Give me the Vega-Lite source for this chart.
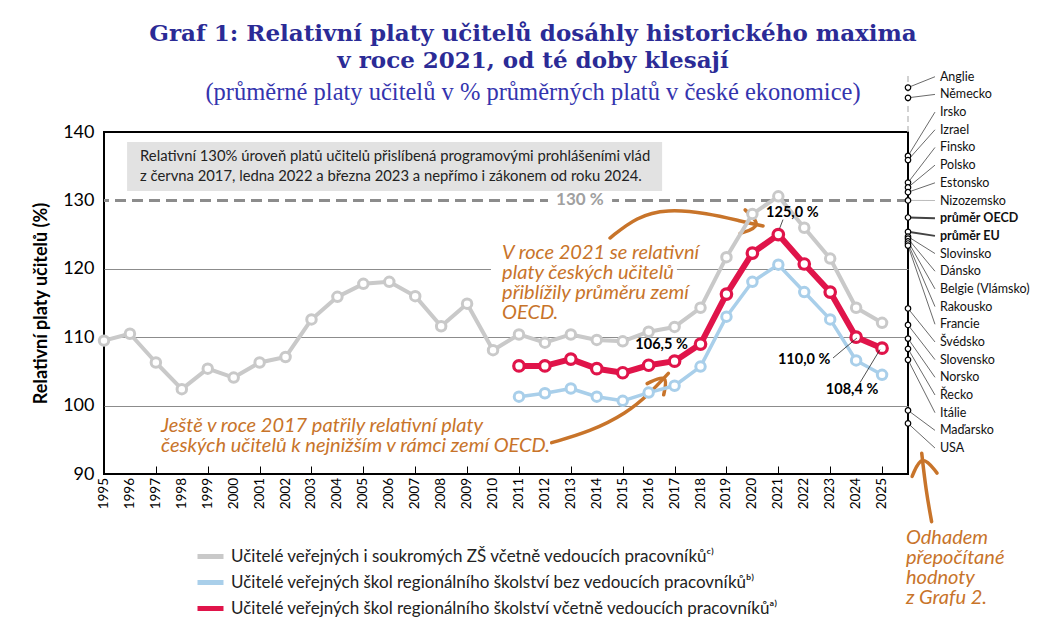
{
  "$schema": "https://vega.github.io/schema/vega-lite/v6.json",
  "width": 804,
  "height": 342,
  "autosize": {"type": "none"},
  "padding": {"left": 104, "top": 132, "right": 134, "bottom": 155},
  "background": "white",
  "title": {
    "text": ["Graf 1: Relativní platy učitelů dosáhly historického maxima", "v roce 2021, od té doby klesají"],
    "subtitle": "(průměrné platy učitelů v % průměrných platů v české ekonomice)",
    "frame": "group",
    "font": "DejaVu Serif",
    "fontSize": 23,
    "fontWeight": "bold",
    "color": "#2b2b96",
    "lineHeight": 27,
    "subtitleFont": "Liberation Serif",
    "subtitleFontSize": 24.5,
    "subtitleColor": "#3434ae",
    "subtitlePadding": 8,
    "anchor": "middle",
    "dx": 27,
    "offset": -34
  },
  "datasets": {
    "teachers": [
      {"year": 1995, "zs": 109.5},
      {"year": 1996, "zs": 110.5},
      {"year": 1997, "zs": 106.3},
      {"year": 1998, "zs": 102.4},
      {"year": 1999, "zs": 105.4},
      {"year": 2000, "zs": 104.1},
      {"year": 2001, "zs": 106.3},
      {"year": 2002, "zs": 107.1},
      {"year": 2003, "zs": 112.6},
      {"year": 2004, "zs": 115.9},
      {"year": 2005, "zs": 117.8},
      {"year": 2006, "zs": 118.1},
      {"year": 2007, "zs": 116.0},
      {"year": 2008, "zs": 111.6},
      {"year": 2009, "zs": 114.9},
      {"year": 2010, "zs": 108.1},
      {"year": 2011, "zs": 110.4, "bez": 101.3, "vcetne": 105.8},
      {"year": 2012, "zs": 109.2, "bez": 101.8, "vcetne": 105.8},
      {"year": 2013, "zs": 110.4, "bez": 102.5, "vcetne": 106.8},
      {"year": 2014, "zs": 109.6, "bez": 101.3, "vcetne": 105.4},
      {"year": 2015, "zs": 109.4, "bez": 100.7, "vcetne": 104.8},
      {"year": 2016, "zs": 110.8, "bez": 101.9, "vcetne": 105.9},
      {"year": 2017, "zs": 111.5, "bez": 102.9, "vcetne": 106.5},
      {"year": 2018, "zs": 114.3, "bez": 105.7, "vcetne": 109.0},
      {"year": 2019, "zs": 121.7, "bez": 113.0, "vcetne": 116.3},
      {"year": 2020, "zs": 128.0, "bez": 118.1, "vcetne": 122.3},
      {"year": 2021, "zs": 130.6, "bez": 120.6, "vcetne": 125.0},
      {"year": 2022, "zs": 126.0, "bez": 116.6, "vcetne": 120.7},
      {"year": 2023, "zs": 121.5, "bez": 112.6, "vcetne": 116.6},
      {"year": 2024, "zs": 114.3, "bez": 106.6, "vcetne": 110.0},
      {"year": 2025, "zs": 112.1, "bez": 104.5, "vcetne": 108.4}
    ],
    "countries": [
      {"country": "Anglie", "value": 146.5},
      {"country": "Německo", "value": 145.0},
      {"country": "Irsko", "value": 136.5},
      {"country": "Izrael", "value": 135.9},
      {"country": "Finsko", "value": 132.6},
      {"country": "Polsko", "value": 131.9},
      {"country": "Estonsko", "value": 131.2},
      {"country": "Nizozemsko", "value": 130.0},
      {"country": "průměr OECD", "value": 127.5},
      {"country": "průměr EU", "value": 125.4},
      {"country": "Slovinsko", "value": 124.7},
      {"country": "Dánsko", "value": 124.4},
      {"country": "Belgie (Vlámsko)", "value": 124.0},
      {"country": "Rakousko", "value": 123.7},
      {"country": "Francie", "value": 123.4},
      {"country": "Švédsko", "value": 114.2},
      {"country": "Slovensko", "value": 111.8},
      {"country": "Norsko", "value": 109.8},
      {"country": "Řecko", "value": 108.3},
      {"country": "Itálie", "value": 106.7},
      {"country": "Maďarsko", "value": 99.3},
      {"country": "USA", "value": 97.4}
    ],
    "arrows": [
      {"id": "a1", "i": 1, "x": 2014.51, "y": 124.5},
      {"id": "a1", "i": 2, "x": 2015.54, "y": 127.62},
      {"id": "a1", "i": 3, "x": 2016.7, "y": 128.74},
      {"id": "a1", "i": 4, "x": 2018.24, "y": 128.16},
      {"id": "a1", "i": 5, "x": 2019.64, "y": 126.89},
      {"id": "a1", "i": 6, "x": 2020.41, "y": 126.26},
      {"id": "a1h", "i": 1, "x": 2019.72, "y": 128.61},
      {"id": "a1h", "i": 2, "x": 2020.41, "y": 126.26},
      {"id": "a1h", "i": 3, "x": 2019.53, "y": 125.18},
      {"id": "a2", "i": 1, "x": 2012.26, "y": 94.58},
      {"id": "a2", "i": 2, "x": 2013.74, "y": 96.18},
      {"id": "a2", "i": 3, "x": 2015.15, "y": 98.87},
      {"id": "a2", "i": 4, "x": 2016.05, "y": 101.8},
      {"id": "a2", "i": 5, "x": 2016.76, "y": 104.72},
      {"id": "a2h", "i": 1, "x": 2015.94, "y": 103.22},
      {"id": "a2h", "i": 2, "x": 2016.76, "y": 104.72},
      {"id": "a2h", "i": 3, "x": 2016.58, "y": 101.58},
      {"id": "a3", "i": 1, "x": 2026.91, "y": 83.03},
      {"id": "a3", "i": 2, "x": 2026.69, "y": 87.66},
      {"id": "a3", "i": 3, "x": 2026.53, "y": 93.03},
      {"id": "a3h", "i": 1, "x": 2026.16, "y": 89.65},
      {"id": "a3h", "i": 2, "x": 2026.53, "y": 93.03},
      {"id": "a3h", "i": 3, "x": 2027.12, "y": 90.13}
    ]
  },
  "layer": [
    {
      "data": {"values": [{}]},
      "mark": {"type": "rect", "fill": "#e2e2e2"},
      "encoding": {
        "x": {"datum": 1995.89}, "x2": {"datum": 2016.52},
        "y": {"datum": 138.54}, "y2": {"datum": 131.37}
      }
    },
    {
      "data": {"values": [{}]},
      "mark": {"type": "text", "align": "left", "baseline": "middle", "font": "Lato", "fontSize": 14.8, "color": "#222222", "lineHeight": 20,
        "text": ["Relativní 130% úroveň platů učitelů přislíbená programovými prohlášeními vlád", "z června 2017, ledna 2022 a března 2023 a nepřímo i zákonem od roku 2024."]},
      "encoding": {"x": {"datum": 1996.39}, "y": {"datum": 136.35}}
    },
    {
      "data": {"values": [{}]},
      "mark": {"type": "rule", "color": "#8c8c8c", "strokeWidth": 3, "strokeDash": [11, 6]},
      "encoding": {"y": {"datum": 130}}
    },
    {
      "data": {"values": [{}]},
      "mark": {"type": "rect", "fill": "white"},
      "encoding": {
        "x": {"datum": 2012.12}, "x2": {"datum": 2014.59},
        "y": {"datum": 131.08}, "y2": {"datum": 129.04}
      }
    },
    {
      "data": {"values": [{}]},
      "mark": {"type": "text", "text": "130 %", "font": "Lato", "fontSize": 17, "fontWeight": "bold", "color": "#a0a0a0", "align": "center", "baseline": "middle"},
      "encoding": {"x": {"datum": 2013.35}, "y": {"datum": 130}}
    },
    {
      "data": {"values": [{}]},
      "mark": {"type": "rect", "fill": "white"},
      "encoding": {
        "x": {"datum": 2009.92}, "x2": {"datum": 2017.09},
        "y": {"datum": 121.6}, "y2": {"datum": 118.6}
      }
    },
    {
      "data": {"values": [{}]},
      "mark": {"type": "text", "align": "left", "baseline": "middle", "font": "Lato", "fontStyle": "italic", "fontSize": 20, "color": "#c8742a", "lineHeight": 20,
        "text": ["V roce 2021 se relativní", "platy českých učitelů", "přiblížily průměru zemí", "OECD."]},
      "encoding": {"x": {"datum": 2010.35}, "y": {"datum": 122.3}}
    },
    {
      "data": {"values": [{}]},
      "mark": {"type": "text", "align": "left", "baseline": "middle", "font": "Lato", "fontStyle": "italic", "fontSize": 20, "color": "#c8742a", "lineHeight": 20,
        "text": ["Ještě v roce 2017 patřily relativní platy", "českých učitelů k nejnižším v rámci zemí OECD."]},
      "encoding": {"x": {"datum": 1997.2}, "y": {"datum": 97.02}}
    },
    {
      "data": {"values": [{}]},
      "mark": {"type": "text", "align": "left", "baseline": "middle", "font": "Lato", "fontStyle": "italic", "fontSize": 20, "color": "#c8742a", "lineHeight": 20,
        "text": ["Odhadem", "přepočítané", "hodnoty", "z Grafu 2."]},
      "encoding": {"x": {"datum": 2025.92}, "y": {"datum": 80.64}}
    },
    {
      "data": {"name": "arrows"},
      "mark": {"type": "line", "color": "#c8742a", "strokeWidth": 3.5, "interpolate": "basis", "strokeCap": "round", "strokeJoin": "round"},
      "encoding": {
        "x": {"field": "x", "type": "quantitative", "title": null},
        "y": {"field": "y", "type": "quantitative"},
        "detail": {"field": "id"},
        "order": {"field": "i"}
      }
    },
    {
      "data": {"name": "teachers"},
      "transform": [
        {"fold": ["zs", "bez", "vcetne"], "as": ["series", "value"]},
        {"filter": "isValid(datum.value)"},
        {"calculate": "replace(format(datum.value, '.1f'), '.', ',') + ' %'", "as": "label"}
      ],
      "encoding": {
        "x": {"field": "year", "type": "quantitative",
          "scale": {"domain": [1995, 2026], "nice": false, "zero": false},
          "axis": {"title": null, "labels": false, "values": [1995, 1996, 1997, 1998, 1999, 2000, 2001, 2002, 2003, 2004, 2005, 2006, 2007, 2008, 2009, 2010, 2011, 2012, 2013, 2014, 2015, 2016, 2017, 2018, 2019, 2020, 2021, 2022, 2023, 2024, 2025]}},
        "y": {"field": "value", "type": "quantitative",
          "scale": {"domain": [90, 140], "nice": false, "zero": false},
          "axis": {"title": "Relativní platy učitelů (%)", "values": [90, 100, 110, 120, 130, 140]}}
      },
      "layer": [
        {
          "transform": [{"filter": "datum.series == 'zs'"}],
          "mark": {"type": "text", "angle": 270, "align": "right", "baseline": "middle", "dx": -4, "font": "Lato", "fontSize": 13.5, "color": "black"},
          "encoding": {
            "y": {"datum": 90},
            "text": {"field": "year", "type": "quantitative", "format": "d"}
          }
        },
        {
          "transform": [{"filter": "datum.series == 'zs'"}],
          "mark": {"type": "line", "strokeWidth": 4, "strokeJoin": "round", "point": {"filled": false, "fill": "white", "size": 90, "strokeWidth": 3}},
          "encoding": {
            "color": {"field": "series", "type": "nominal",
              "scale": {"domain": ["zs", "bez", "vcetne"], "range": ["#c9c9c9", "#a9cfea", "#e0144a"]},
              "legend": {
                "orient": "none", "legendX": 91, "legendY": 409, "title": null, "padding": 0,
                "symbolType": "stroke", "symbolStrokeWidth": 5, "symbolSize": 676, "rowPadding": -1,
                "labelFont": "Lato", "labelFontSize": 17, "labelColor": "#222222", "labelLimit": 700, "labelOffset": 5,
                "labelExpr": "datum.label == 'zs' ? 'Učitelé veřejných i soukromých ZŠ včetně vedoucích pracovníkůᶜ⁾' : datum.label == 'bez' ? 'Učitelé veřejných škol regionálního školství bez vedoucích pracovníkůᵇ⁾' : 'Učitelé veřejných škol regionálního školství včetně vedoucích pracovníkůᵃ⁾'"
              }}
          }
        },
        {
          "transform": [{"filter": "datum.series == 'bez'"}],
          "mark": {"type": "line", "strokeWidth": 3.5, "strokeJoin": "round", "point": {"filled": false, "fill": "white", "size": 90, "strokeWidth": 3}},
          "encoding": {"color": {"field": "series", "type": "nominal"}}
        },
        {
          "transform": [{"filter": "datum.series == 'vcetne'"}],
          "mark": {"type": "line", "strokeWidth": 6, "strokeJoin": "round", "point": {"filled": false, "fill": "white", "size": 110, "strokeWidth": 3.2}},
          "encoding": {"color": {"field": "series", "type": "nominal"}}
        },
        {
          "transform": [{"filter": "datum.series == 'vcetne' && datum.year == 2017"}],
          "mark": {"type": "text", "font": "Lato", "fontSize": 14.5, "fontWeight": "bold", "color": "black", "dx": -13, "dy": -16},
          "encoding": {"text": {"field": "label"}}
        },
        {
          "transform": [{"filter": "datum.series == 'vcetne' && datum.year == 2021"}],
          "mark": {"type": "text", "font": "Lato", "fontSize": 14.5, "fontWeight": "bold", "color": "black", "dx": 14, "dy": -22},
          "encoding": {"text": {"field": "label"}}
        },
        {
          "transform": [{"filter": "datum.series == 'vcetne' && datum.year == 2024"}],
          "mark": {"type": "text", "font": "Lato", "fontSize": 14.5, "fontWeight": "bold", "color": "black", "dx": -52, "dy": 23},
          "encoding": {"text": {"field": "label"}}
        },
        {
          "transform": [{"filter": "datum.series == 'vcetne' && datum.year == 2025"}],
          "mark": {"type": "text", "font": "Lato", "fontSize": 14.5, "fontWeight": "bold", "color": "black", "dx": -30, "dy": 42},
          "encoding": {"text": {"field": "label"}}
        }
      ]
    },
    {
      "data": {"values": [{}]},
      "mark": {"type": "rule", "color": "#222222", "strokeWidth": 0.8},
      "encoding": {"x": {"datum": 2021.18}, "y": {"datum": 127.19}, "x2": {"datum": 2021.05}, "y2": {"datum": 125.9}}
    },
    {
      "data": {"values": [{}]},
      "mark": {"type": "rule", "color": "#222222", "strokeWidth": 0.8},
      "encoding": {"x": {"datum": 2023.11}, "y": {"datum": 106.96}, "x2": {"datum": 2024.03}, "y2": {"datum": 109.88}}
    },
    {
      "data": {"values": [{}]},
      "mark": {"type": "rule", "color": "#222222", "strokeWidth": 0.8},
      "encoding": {"x": {"datum": 2024.15}, "y": {"datum": 103.36}, "x2": {"datum": 2024.92}, "y2": {"datum": 108.19}}
    },
    {
      "data": {"values": [{}]},
      "mark": {"type": "rule", "color": "#c4c4c4", "strokeWidth": 1.5, "strokeDash": [6, 4]},
      "encoding": {"x": {"datum": 2026}, "y": {"datum": 140}, "y2": {"datum": 148.6}}
    },
    {
      "data": {"name": "countries"},
      "transform": [
        {"window": [{"op": "row_number", "as": "rank"}], "sort": [{"field": "value", "order": "descending"}]},
        {"calculate": "148.08 - (datum.rank - 1) * 2.585", "as": "slot"}
      ],
      "layer": [
        {
          "mark": {"type": "rule"},
          "encoding": {
            "x": {"datum": 2026}, "x2": {"datum": 2027.04},
            "y": {"field": "value", "type": "quantitative"}, "y2": {"field": "slot"},
            "color": {"condition": {"test": "datum.country == 'Nizozemsko'", "value": "#aaaaaa"}, "value": "#444444"},
            "strokeWidth": {"condition": {"test": "datum.country == 'průměr OECD' || datum.country == 'průměr EU'", "value": 2}, "value": 0.8}
          }
        },
        {
          "mark": {"type": "point", "shape": "circle", "filled": true, "fill": "white", "stroke": "black", "strokeWidth": 1.2, "size": 30, "opacity": 1},
          "encoding": {
            "x": {"datum": 2026},
            "y": {"field": "value", "type": "quantitative"}
          }
        },
        {
          "transform": [{"filter": "datum.country != 'průměr OECD' && datum.country != 'průměr EU'"}],
          "mark": {"type": "text", "align": "left", "baseline": "middle", "font": "Lato", "fontSize": 12.5, "color": "#111111"},
          "encoding": {
            "x": {"datum": 2027.23},
            "y": {"field": "slot", "type": "quantitative"},
            "text": {"field": "country"}
          }
        },
        {
          "transform": [{"filter": "datum.country == 'průměr OECD' || datum.country == 'průměr EU'"}],
          "mark": {"type": "text", "align": "left", "baseline": "middle", "font": "Lato", "fontSize": 12.5, "fontWeight": "bold", "color": "#111111"},
          "encoding": {
            "x": {"datum": 2027.23},
            "y": {"field": "slot", "type": "quantitative"},
            "text": {"field": "country"}
          }
        }
      ]
    }
  ],
  "config": {
    "font": "Lato",
    "view": {"stroke": "black", "strokeWidth": 2},
    "axisX": {
      "domain": false, "grid": false,
      "tickSize": -8, "tickColor": "black", "tickWidth": 1
    },
    "axisY": {
      "domain": false, "ticks": false, "grid": true,
      "gridColor": "#8c8c8c", "gridWidth": 1,
      "gridOpacity": {"condition": {"test": "datum.value == 130 || datum.value == 90 || datum.value == 140", "value": 0}, "value": 1},
      "labelFont": "Lato", "labelFontSize": 18, "labelColor": "black", "labelPadding": 10,
      "titleFont": "Lato", "titleFontSize": 18, "titleFontWeight": "bold", "titleColor": "black", "titlePadding": 12
    }
  }
}
